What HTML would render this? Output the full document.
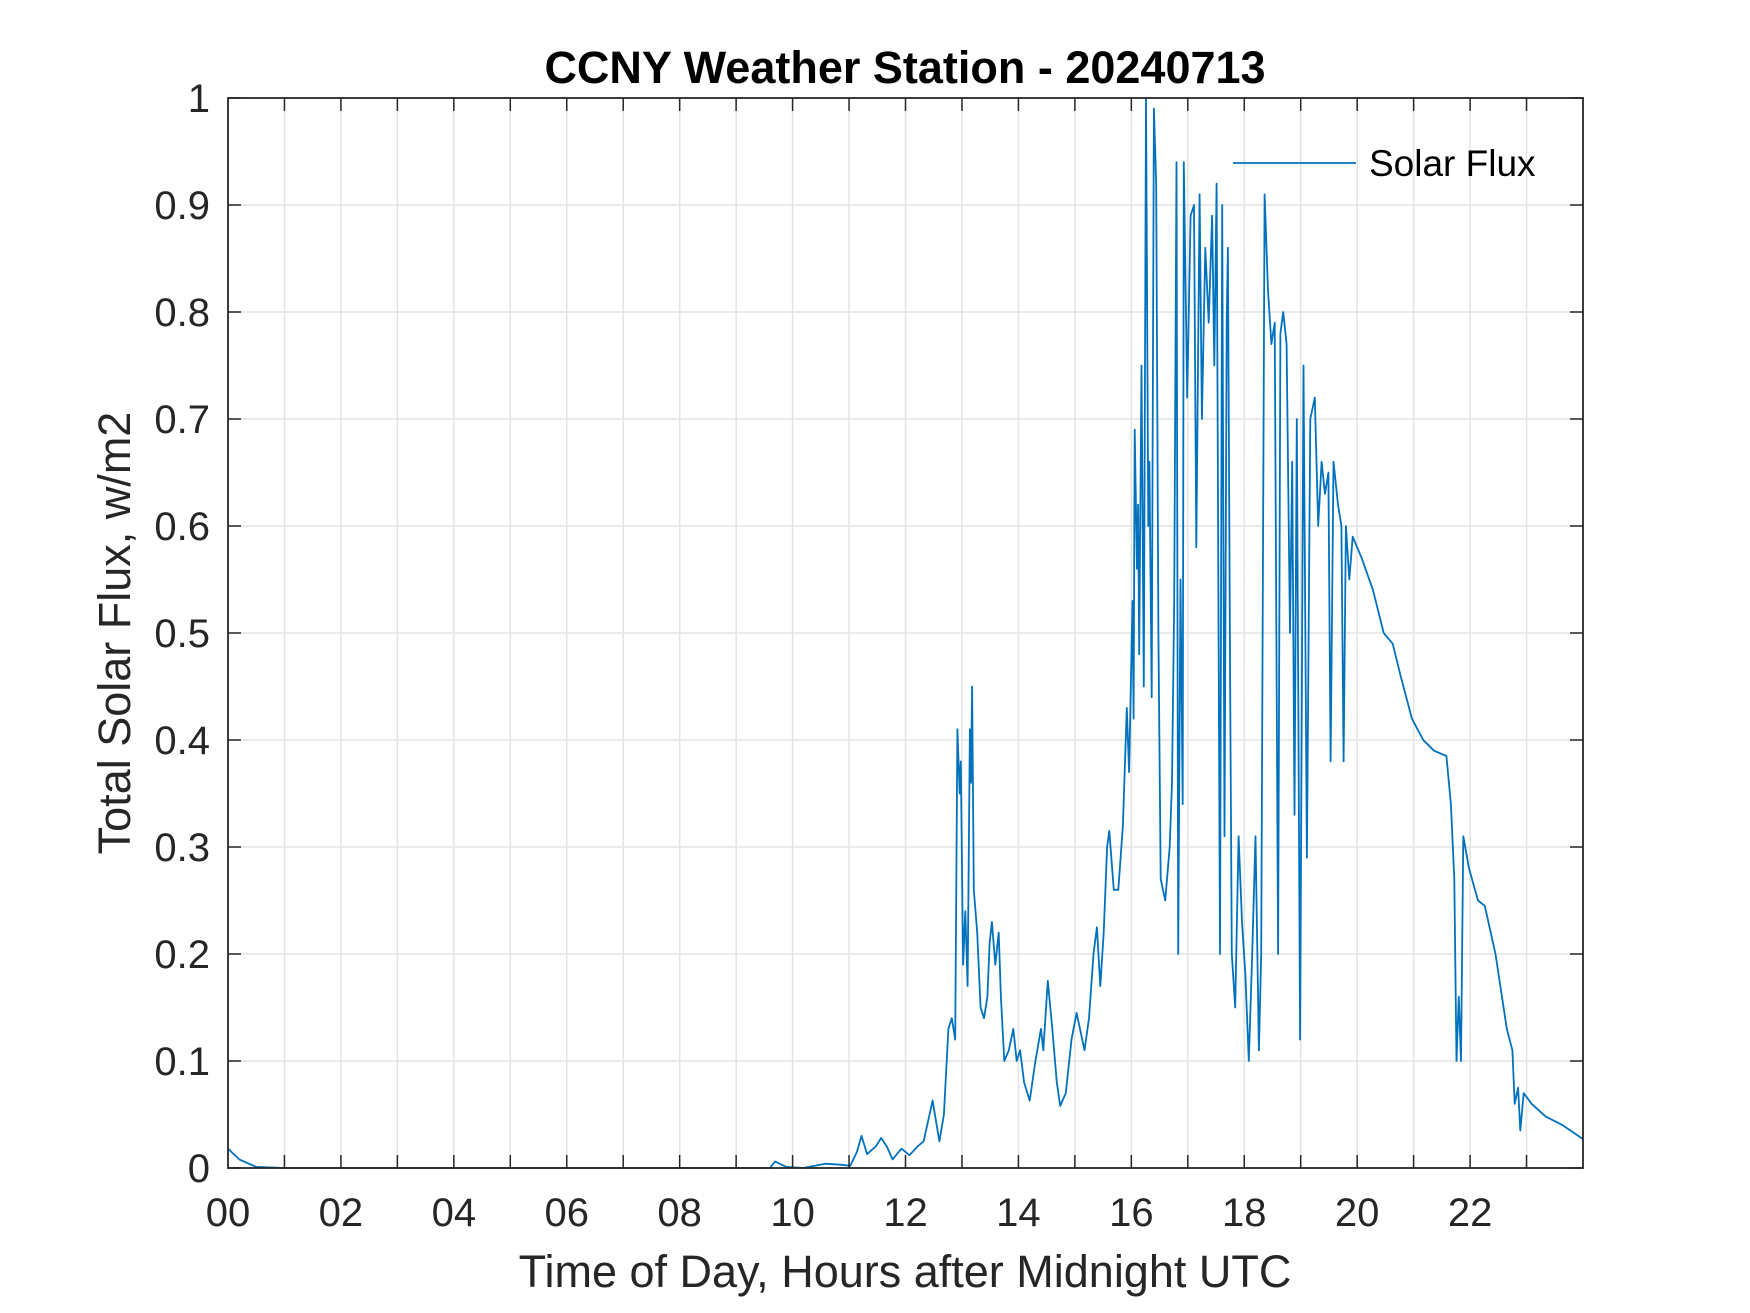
<!DOCTYPE html>
<html><head><meta charset="utf-8"><style>
html,body{margin:0;padding:0;background:#fff;}
svg{display:block;font-family:"Liberation Sans",Arial,sans-serif;}
</style></head><body>
<svg id="chart" width="1750" height="1313" viewBox="0 0 1750 1313">
<rect width="1750" height="1313" fill="#fff"/>
<g id="grid"></g>
<g id="plot"></g>
<g id="axes"></g>
<text x="905" y="83" text-anchor="middle" font-size="45" font-weight="bold" fill="#000">CCNY Weather Station - 20240713</text>
<text x="905" y="1287" text-anchor="middle" font-size="45" fill="#262626">Time of Day, Hours after Midnight UTC</text>
<text transform="translate(130,633) rotate(-90)" text-anchor="middle" font-size="45" fill="#262626">Total Solar Flux, w/m2</text>
<g>
<line x1="1233" y1="163" x2="1356" y2="163" stroke="#0072BD" stroke-width="1.8"/>
<text x="1369" y="176" font-size="37" fill="#000">Solar Flux</text>
</g>
</svg>
<script>
const hours = [0,0.2,0.5,1,9.6,9.69,9.89,10.19,10.58,10.88,11.02,11.14,11.22,11.32,11.47,11.57,11.67,11.77,11.93,12.07,12.21,12.32,12.48,12.6,12.68,12.76,12.82,12.88,12.92,12.96,12.98,13.02,13.06,13.1,13.14,13.16,13.18,13.21,13.27,13.33,13.39,13.45,13.49,13.53,13.59,13.65,13.69,13.75,13.83,13.91,13.97,14.03,14.1,14.2,14.3,14.4,14.44,14.52,14.6,14.68,14.74,14.84,14.94,15.03,15.09,15.17,15.25,15.33,15.39,15.45,15.51,15.57,15.61,15.69,15.77,15.85,15.92,15.96,16.02,16.04,16.06,16.1,16.12,16.14,16.18,16.22,16.26,16.3,16.32,16.36,16.4,16.44,16.48,16.52,16.6,16.68,16.72,16.76,16.8,16.83,16.87,16.91,16.93,16.99,17.05,17.11,17.15,17.21,17.25,17.31,17.37,17.43,17.47,17.51,17.57,17.61,17.65,17.69,17.71,17.75,17.78,17.84,17.9,17.96,18.02,18.08,18.14,18.2,18.26,18.3,18.36,18.42,18.48,18.54,18.6,18.64,18.69,18.75,18.81,18.85,18.89,18.93,18.99,19.05,19.11,19.17,19.25,19.31,19.37,19.43,19.49,19.53,19.58,19.66,19.72,19.76,19.8,19.86,19.92,20.08,20.28,20.47,20.63,20.77,20.97,21.17,21.36,21.58,21.66,21.72,21.76,21.8,21.84,21.88,21.98,22.14,22.26,22.45,22.65,22.75,22.79,22.85,22.89,22.95,23.09,23.34,23.64,24];
const flux = [0.018,0.008,0.001,0,0,0.006,0.001,0,0.004,0.003,0.002,0.015,0.03,0.013,0.02,0.028,0.02,0.008,0.018,0.012,0.02,0.025,0.063,0.025,0.05,0.13,0.14,0.12,0.41,0.35,0.38,0.19,0.24,0.17,0.41,0.36,0.45,0.26,0.22,0.15,0.14,0.16,0.21,0.23,0.19,0.22,0.16,0.1,0.11,0.13,0.1,0.11,0.08,0.063,0.1,0.13,0.11,0.175,0.13,0.08,0.058,0.07,0.12,0.145,0.13,0.11,0.14,0.2,0.225,0.17,0.22,0.3,0.315,0.26,0.26,0.32,0.43,0.37,0.53,0.42,0.69,0.56,0.62,0.48,0.75,0.45,1.0,0.6,0.66,0.44,0.99,0.92,0.5,0.27,0.25,0.3,0.36,0.53,0.94,0.2,0.55,0.34,0.94,0.72,0.89,0.9,0.58,0.91,0.7,0.86,0.79,0.89,0.75,0.92,0.2,0.9,0.31,0.79,0.86,0.46,0.2,0.15,0.31,0.23,0.18,0.1,0.2,0.31,0.11,0.2,0.91,0.82,0.77,0.79,0.2,0.78,0.8,0.77,0.5,0.66,0.33,0.7,0.12,0.75,0.29,0.7,0.72,0.6,0.66,0.63,0.65,0.38,0.66,0.62,0.6,0.38,0.6,0.55,0.59,0.57,0.54,0.5,0.49,0.46,0.42,0.4,0.39,0.385,0.34,0.27,0.1,0.16,0.1,0.31,0.28,0.25,0.245,0.2,0.13,0.11,0.06,0.075,0.035,0.07,0.06,0.048,0.04,0.027];
const xTickLabels = ["00","02","04","06","08","10","12","14","16","18","20","22"];
const yTickLabels = ["0","0.1","0.2","0.3","0.4","0.5","0.6","0.7","0.8","0.9","1"];

const L=228,R=1583,T=98,B=1168;
const sx=h=>L+(h/24)*(R-L);
const sy=v=>B-v*(B-T);
const NS="http://www.w3.org/2000/svg";
function mk(tag,attrs,parent){const e=document.createElementNS(NS,tag);for(const k in attrs)e.setAttribute(k,attrs[k]);parent.appendChild(e);return e;}
const grid=document.getElementById('grid'),axes=document.getElementById('axes'),plot=document.getElementById('plot');
for(let h=1;h<24;h++){
  const g=mk('line',{x1:sx(h),x2:sx(h),y1:T,y2:B,stroke:'#e3e3e3','stroke-width':1.5},grid);
  
  
  for(const [a,b] of [[B,B-13],[T,T+13]]){
    const t=mk('line',{x1:sx(h),x2:sx(h),y1:a,y2:b,stroke:'#262626','stroke-width':1.5},axes);
    
    
  }
}
yTickLabels.forEach((lab,i)=>{
  const v=i/10;
  if(i>0&&i<10){
    const g=mk('line',{x1:L,x2:R,y1:sy(v),y2:sy(v),stroke:'#e3e3e3','stroke-width':1.5},grid);
    
    
  }
  for(const [a,b] of [[L,L+13],[R,R-13]]){
    const t=mk('line',{x1:a,x2:b,y1:sy(v),y2:sy(v),stroke:'#262626','stroke-width':1.5},axes);
    
    
  }
  const tx=mk('text',{x:L-18,y:sy(v)+14,'text-anchor':'end','font-size':40,fill:'#262626'},axes);
  tx.textContent=lab;
  
  
});
xTickLabels.forEach((lab,i)=>{
  const tx=mk('text',{x:sx(i*2),y:1226,'text-anchor':'middle','font-size':40,fill:'#262626'},axes);
  tx.textContent=lab;
  
  
});
const box=mk('rect',{x:L,y:T,width:R-L,height:B-T,fill:'none',stroke:'#262626','stroke-width':1.8},axes);


const d=hours.map((h,i)=>(i?'L':'M')+sx(h).toFixed(1)+','+sy(flux[i]).toFixed(1)).join(' ');
const line=mk('path',{d:d,fill:'none',stroke:'#0072BD','stroke-width':1.8,'stroke-linejoin':'round'},plot);


</script>
</body></html>
